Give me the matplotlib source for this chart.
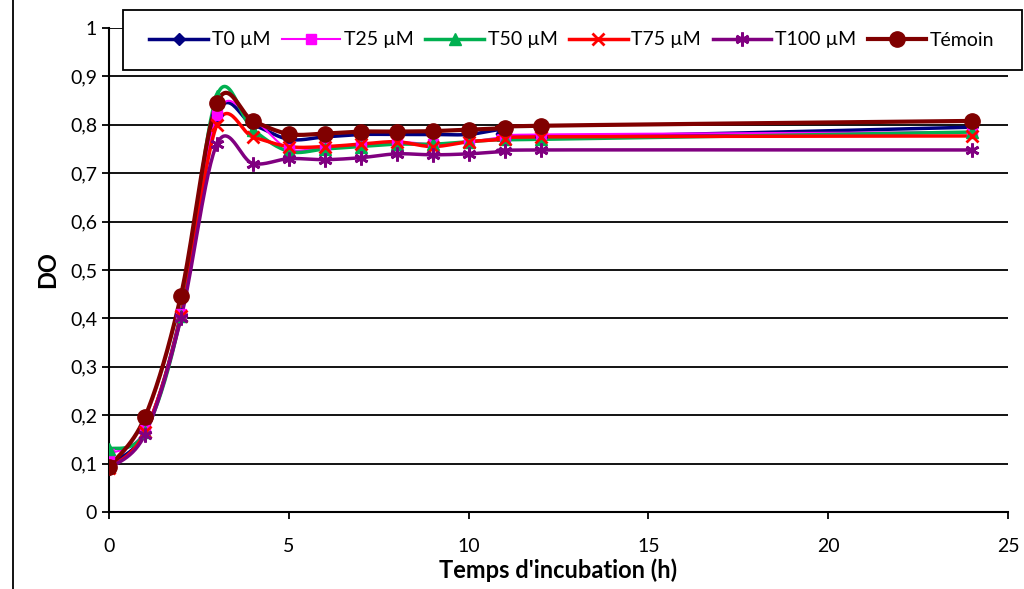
import matplotlib.pyplot as plt
from matplotlib.patches import Rectangle
import numpy as np

hours = [0, 1, 2, 3, 4, 5, 6, 7, 8, 9, 10, 11, 12, 24]
t0 = [0.10, 0.165, 0.41, 0.82, 0.80, 0.77, 0.775, 0.78, 0.78, 0.78, 0.78, 0.79, 0.775, 0.795]
t25 = [0.12, 0.17, 0.41, 0.82, 0.81, 0.75, 0.755, 0.76, 0.765, 0.76, 0.765, 0.775, 0.78, 0.785]
t50 = [0.13, 0.165, 0.405, 0.86, 0.79, 0.745, 0.75, 0.755, 0.76, 0.76, 0.765, 0.77, 0.77, 0.785]
t75 = [0.09, 0.165, 0.405, 0.80, 0.775, 0.755, 0.755, 0.76, 0.765, 0.755, 0.765, 0.77, 0.775, 0.777]
t100 = [0.09, 0.16, 0.40, 0.76, 0.72, 0.73, 0.728, 0.732, 0.74, 0.738, 0.74, 0.745, 0.748, 0.748]
temoin = [0.093, 0.196, 0.447, 0.845, 0.808, 0.781, 0.782, 0.786, 0.786, 0.787, 0.79, 0.793, 0.798, 0.808]

labels = ['T0 µM', 'T25 µM', 'T50 µM', 'T75 µM', 'T100 µM', 'Témoin']
series = [t0, t25, t50, t75, t100, temoin]
colors = ['#000080', '#FF00FF', '#00B050', '#FF0000', '#800080', '#800000']
markers = ['D', 's', '^', 'x', (6, 2, 0), 'o']
msizes = [6, 7, 8, 9, 10, 11]
lwidths = [2.5, 1.5, 2.5, 2.5, 2.5, 3]

plt.rcParams['font.family'] = ['Lato', 'DejaVu Sans']


def smooth(x, y, n=30):
    # Excel-like smoothing: cubic Bezier with Catmull-Rom tangents
    x = np.asarray(x, float)
    y = np.asarray(y, float)
    xs, ys = [], []
    for i in range(len(x) - 1):
        p0 = np.array([x[max(i - 1, 0)], y[max(i - 1, 0)]])
        p1 = np.array([x[i], y[i]])
        p2 = np.array([x[i + 1], y[i + 1]])
        p3 = np.array([x[min(i + 2, len(x) - 1)], y[min(i + 2, len(x) - 1)]])
        c1 = p1 + (p2 - p0) / 6
        c2 = p2 - (p3 - p1) / 6
        t = np.linspace(0, 1, n)[:, None]
        pts = (1 - t) ** 3 * p1 + 3 * (1 - t) ** 2 * t * c1 + 3 * (1 - t) * t ** 2 * c2 + t ** 3 * p2
        xs.extend(pts[:, 0])
        ys.extend(pts[:, 1])
    return xs, ys


fig = plt.figure(figsize=(10.24, 5.89), dpi=100)
ax = fig.add_axes([109 / 1024, 77 / 589, 899 / 1024, 484 / 589])

for vals, lab, col, mk, ms, lw in zip(series, labels, colors, markers, msizes, lwidths):
    mew = 2 if mk in ('x', (6, 2, 0)) else 1
    sx, sy = smooth(hours, vals)
    ax.plot(sx, sy, color=col, linewidth=lw, zorder=3)
    ax.plot(hours, vals, linestyle='none', marker=mk, color=col, markersize=ms,
            markeredgewidth=mew, zorder=4)
    ax.plot([], [], color=col, linewidth=lw, marker=mk, markersize=ms,
            markeredgewidth=mew, label=lab)

ax.set_xlim(0, 25)
ax.set_ylim(0, 1)
ax.set_xticks(range(0, 26, 5))
yt = np.round(np.arange(0, 1.01, 0.1), 1)
ax.set_yticks(yt)
ax.set_yticklabels([('%g' % v).replace('.', ',') for v in yt])
ax.tick_params(axis='both', direction='out', length=5, width=1.3, labelsize=14, color='black')
ax.tick_params(axis='x', pad=14)
ax.grid(axis='y', color='black', linewidth=1.3)
ax.set_axisbelow(True)
for s in ['top', 'right']:
    ax.spines[s].set_visible(False)
ax.spines['left'].set_linewidth(1.5)
ax.spines['bottom'].set_linewidth(1.5)

ax.set_ylabel('DO', fontsize=17, fontweight='bold', labelpad=8)
ax.set_xlabel("Temps d'incubation (h)", fontsize=17, fontweight='bold', labelpad=2)

# legend box (white, covers the top gridline)
fig.add_artist(Rectangle((123 / 1024, 519 / 589), 899 / 1024, 60 / 589, transform=fig.transFigure,
                         facecolor='white', edgecolor='black', linewidth=1.3))
fig.legend(loc='center', ncol=6, bbox_to_anchor=(572 / 1024, 549 / 589),
           frameon=False, fontsize=14, handlelength=3, handletextpad=0.2,
           columnspacing=0.6, borderaxespad=0)

fig.add_artist(plt.Line2D([13 / 1024, 13 / 1024], [0, 1], color='black', linewidth=1.3))

plt.savefig('out.png')
